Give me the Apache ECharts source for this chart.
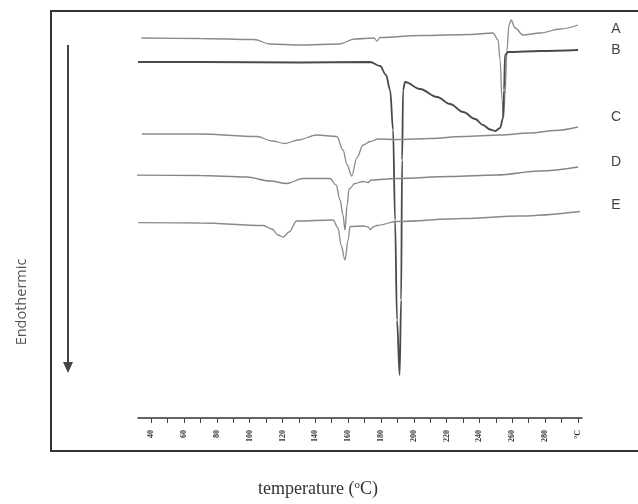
<!DOCTYPE html>
<html><head><meta charset="utf-8">
<script src="https://cdn.jsdelivr.net/npm/echarts@6/dist/echarts.min.js"></script>
<style>html,body{margin:0;padding:0;background:#fff}#c{width:638px;height:504px}</style>
</head><body><div id="c"></div>
<script>
// Temperature (°C) and heat-flow signal (arbitrary units, up = exothermic)
const curveA = [[34.1,380],[69.8,379.5],[102.7,378.5],[112.4,374],[130.7,373],[154.5,374],[164.2,379],[175.8,380],[177.6,377],[179.5,380.5],[203.8,382.5],[234.3,383.5],[248.3,385],[251.4,378],[252.6,358],[253.8,318],[254.7,300],[255.6,323],[256.8,368],[258.0,393],[259.3,398],[261.7,390],[266.6,383],[277.0,385],[289.2,389],[300.1,393]];
const curveB = [[32,356],[69.8,356],[130.7,355.5],[173.4,356],[179.5,352],[183.1,343],[185.6,328],[187.4,288],[188.6,198],[189.8,98],[191.4,43],[192.3,118],[192.9,258],[193.5,328],[194.7,336],[203.8,329],[214.2,321],[222.1,314],[230.1,306],[237.4,299],[242.2,293],[246.5,288.5],[249.6,287],[252.6,290],[254.4,300],[255.0,328],[255.6,363],[257.5,366],[277.0,367],[300.1,368]];
const curveC = [[34.4,284],[69.8,284],[104.5,281.5],[113.7,277],[121.6,274.5],[129.5,278],[140.9,283],[153.1,281.5],[156.9,268],[159.4,253],[162.2,242],[165.3,260],[169.1,273],[173.4,276.5],[178.3,279],[189.6,278.5],[209.9,279.5],[230.1,281.5],[252.6,283],[270.9,285],[286.1,287.5],[300.1,291]];
const curveD = [[29.1,243],[69.8,242.5],[98.2,241],[112.4,237],[122.6,234.5],[132.5,239.5],[149.0,239.5],[152.7,233],[155.1,218],[156.9,203],[158.1,188],[159.4,213],[160.6,229],[164.2,234.5],[169.1,236.5],[172.2,235.5],[174.0,238],[189.6,239.5],[222.1,241.5],[250.6,243],[277.0,247],[300.1,251]];
const curveE = [[32.2,195.3],[69.8,195],[108.2,192.5],[113.7,189],[117.3,183],[120.5,181],[124.0,186],[128.7,197],[150.8,198],[153.9,190],[155.7,173],[158.1,158],[160.0,178],[161.2,191.5],[169.3,192],[172.2,191],[173.4,188.5],[175.2,191],[177.5,192.5],[189.6,196.5],[230.1,199.5],[264.8,202],[301.3,206.5]];
const seriesNames = ['A','B','C','D','E'];
const tickValues = [40,50,60,70,80,90,100,110,120,130,140,150,160,170,180,190,200,210,220,230,240,250,260,270,280,290,300];
const labelValues = [40,60,80,100,120,140,160,180,200,220,240,260,280,300];
const yLabelText = 'Endothermic';

const chart = echarts.init(document.getElementById('c'), null, {renderer:'canvas'});
const colors = ['#8a8a8a','#4a4a4a','#8a8a8a','#858585','#8a8a8a'];
const widths = [1.3,1.8,1.3,1.3,1.3];
const datas = [curveA,curveB,curveC,curveD,curveE];
const labelY = [29,50,117,162,205];
chart.setOption({
  animation:false,
  grid:{left:138,right:56,top:12,bottom:86},
  xAxis:{type:'value',min:32,max:302.5,
    axisLine:{show:true,lineStyle:{color:'#333',width:1.5}},
    axisTick:{show:true,customValues:tickValues,length:5,lineStyle:{color:'#444',width:1}},
    axisLabel:{show:true,customValues:labelValues,rotate:90,margin:12,fontSize:8,fontWeight:'bold',color:'#333',fontFamily:'Liberation Serif',
      formatter:v=>v===300?'°C':String(v)},
    splitLine:{show:false}},
  yAxis:{type:'value',min:0,max:406,show:false,splitLine:{show:false}},
  series:datas.map((d,i)=>({type:'line',name:seriesNames[i],data:d,showSymbol:false,clip:false,
    smooth:0.35,smoothMonotone:'x',lineStyle:{color:colors[i],width:widths[i]}})),
  graphic:[
    {type:'rect',shape:{x:51,y:11,width:600,height:440},style:{fill:'none',stroke:'#333',lineWidth:2},silent:true},
    {type:'line',shape:{x1:68,y1:45,x2:68,y2:364},style:{stroke:'#444',lineWidth:2}},
    {type:'polygon',shape:{points:[[63,362],[73,362],[68,373]]},style:{fill:'#444'}},
    {type:'text',x:22,y:302,rotation:Math.PI/2,style:{text:yLabelText,fontSize:14.5,fontFamily:'Open Sans',fill:'#555',align:'center',verticalAlign:'middle'}},
    {type:'text',x:318,y:489,style:{text:'temperature ({s|o}C)',rich:{s:{fontSize:11,verticalAlign:'top',padding:[0,0,8,0],fontFamily:'Liberation Serif',fill:'#333'}},fontSize:18,fontFamily:'Liberation Serif',fill:'#333',align:'center',verticalAlign:'middle'}}
  ].concat(seriesNames.map((n,i)=>({type:'text',x:616,y:labelY[i],style:{text:n,fontSize:14,fontFamily:'Liberation Sans',fill:'#444',align:'center',verticalAlign:'middle'}})))
});
</script></body></html>
